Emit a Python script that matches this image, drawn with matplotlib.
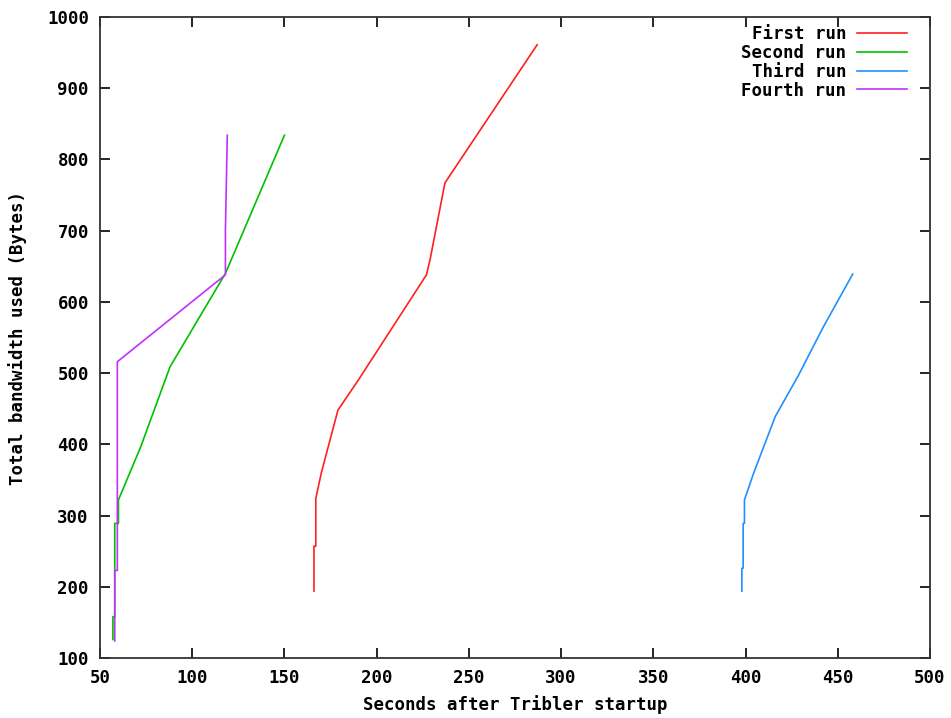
import matplotlib.pyplot as plt

# Bandwidth usage per run: seconds after startup vs. total bytes
first_t = [166, 166, 167, 167, 170, 179, 190, 227, 229, 237, 287]
first_b = [194, 257, 257, 324, 360, 448, 490, 638, 660, 767, 961]

second_t = [57, 57, 58, 58, 60, 60, 72, 88, 118, 150]
second_b = [126, 158, 158, 289, 289, 322, 396, 509, 640, 834]

third_t = [398, 398, 398.7, 398.7, 399.4, 399.4, 404.3, 416.1, 428.7, 442.2, 458.1]
third_b = [194, 226, 226, 289, 289, 322, 359, 439, 497, 565, 639]

fourth_t = [58, 58, 59.4, 59.4, 118, 118, 119]
fourth_b = [124, 223, 223, 516, 638, 700, 834]

plt.rcParams['font.family'] = 'DejaVu Sans Mono'
plt.rcParams['font.weight'] = 'bold'
plt.rcParams['font.size'] = 12.5

fig = plt.figure(figsize=(9.51, 7.18), dpi=100)
ax = fig.add_axes([100/951, 60/718, 830/951, 641/718])

ax.plot(first_t, first_b, color='#ff2020', lw=1.2, label='First run')
ax.plot(second_t, second_b, color='#00c000', lw=1.2, label='Second run')
ax.plot(third_t, third_b, color='#2090ff', lw=1.2, label='Third run')
ax.plot(fourth_t, fourth_b, color='#c030ff', lw=1.2, label='Fourth run')

ax.set_xlim(50, 500)
ax.set_ylim(100, 1000)
ax.set_xticks(range(50, 501, 50))
ax.set_yticks(range(100, 1001, 100))
ax.tick_params(direction='in', length=7, width=1.2, top=True, right=True, pad=8, colors='black')
for s in ax.spines.values():
    s.set_linewidth(1.3)
    s.set_color('#333333')

ax.set_xlabel('Seconds after Tribler startup', fontweight='bold', labelpad=6)
ax.set_ylabel('Total bandwidth used (Bytes)', fontweight='bold', labelpad=14)

ax.legend(loc='upper right', bbox_to_anchor=(1 - 16/830, 1 - 1/641), borderaxespad=0,
          frameon=False, markerfirst=False, handlelength=2.9,
          handletextpad=0.6, labelspacing=0.05)

fig.savefig('out.png', dpi=100)
